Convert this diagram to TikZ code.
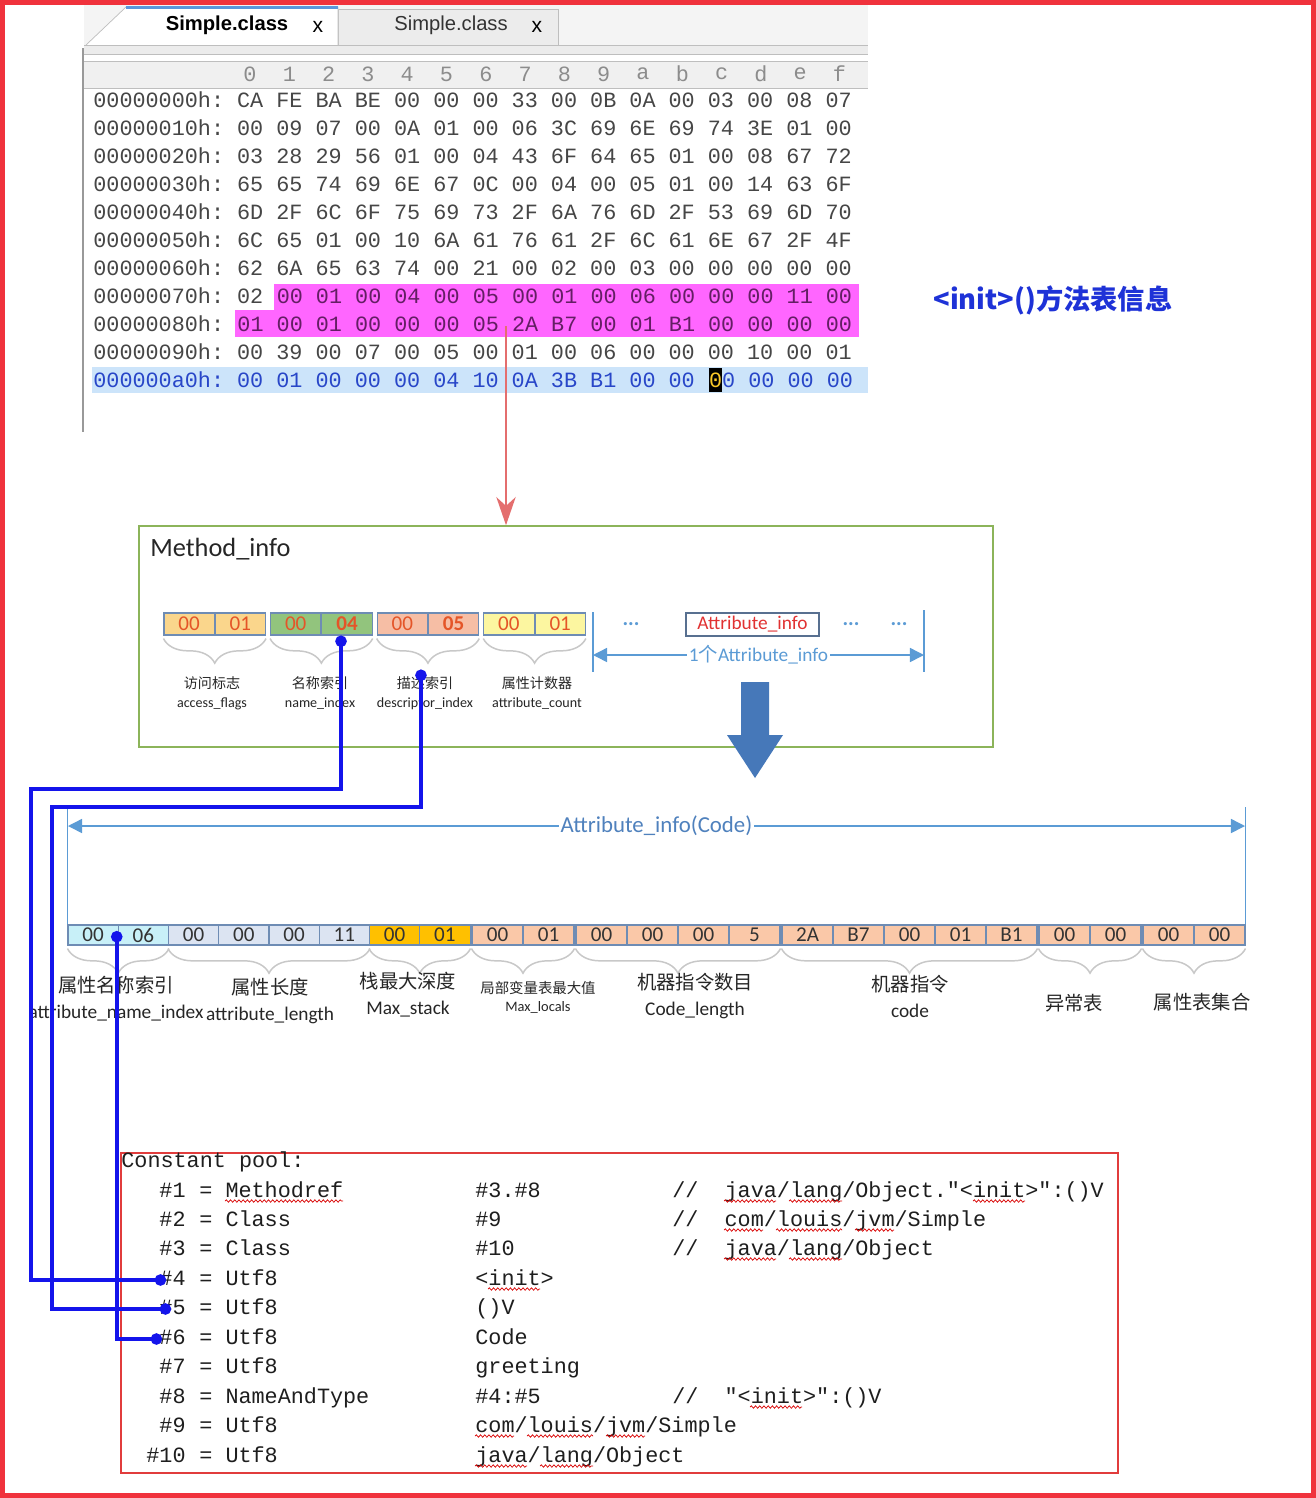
\documentclass[tikz,border=0pt]{standalone}
\usepackage{fontspec}
\setmainfont{Carlito}
\setmonofont[WordSpace={1,0,0}]{Liberation Mono}
\newfontfamily\cjk{Noto Sans CJK SC}
\newfontfamily\tabfont{Liberation Sans}
\usepackage{tikz}
\usetikzlibrary{arrows.meta,positioning,calc,decorations.pathreplacing,decorations.pathmorphing}
\definecolor{framered}{RGB}{240,50,60}
\definecolor{hexgray}{RGB}{70,70,70}
\definecolor{hexpink}{RGB}{255,102,255}
\definecolor{hexpurple}{RGB}{100,30,100}
\definecolor{rowbg}{RGB}{204,228,250}
\definecolor{rowtext}{RGB}{40,70,200}
\definecolor{curyellow}{RGB}{250,200,40}
\definecolor{tabbg}{RGB}{244,244,244}
\definecolor{tabgray}{RGB}{236,236,236}
\definecolor{tabline}{RGB}{190,190,190}
\definecolor{tabblue}{RGB}{90,150,220}
\definecolor{hdrgray}{RGB}{240,240,240}
\definecolor{arrred}{RGB}{228,110,110}
\definecolor{titleblue}{RGB}{30,50,215}
\definecolor{boxgreen}{RGB}{140,180,90}
\definecolor{cellline}{RGB}{110,140,180}
\definecolor{bytered}{RGB}{228,85,40}
\definecolor{mcA}{RGB}{250,214,140}
\definecolor{mcB}{RGB}{146,196,125}
\definecolor{mcC}{RGB}{246,190,165}
\definecolor{mcD}{RGB}{252,246,160}
\definecolor{dimblue}{RGB}{91,155,213}
\definecolor{dimtext}{RGB}{79,129,189}
\definecolor{attrred}{RGB}{225,50,50}
\definecolor{bigarrow}{RGB}{70,120,185}
\definecolor{ccA}{RGB}{200,240,248}
\definecolor{ccB}{RGB}{220,228,242}
\definecolor{ccC}{RGB}{255,192,0}
\definecolor{ccD}{RGB}{250,200,168}
\definecolor{bracegray}{RGB}{200,200,200}
\definecolor{wireblue}{RGB}{20,20,235}
\definecolor{poolred}{RGB}{225,60,60}
\definecolor{pooltext}{RGB}{30,30,30}
\newcommand\hexsz{\ttfamily\fontsize{12.4}{14}\selectfont}

\begin{document}
\begin{tikzpicture}[
    x=0.2mm, y=-0.2mm,
    hexrow/.style={anchor=west,inner sep=0,font=\hexsz,text=hexgray},
    pool/.style={anchor=west,inner sep=0,font=\hexsz,text=pooltext,text height=8.5pt,text depth=2.5pt},
    mcell/.style={draw=cellline,line width=0.6pt,minimum width=10.05mm,minimum height=4.4mm,inner sep=0,font=\fontsize{12}{12}\selectfont,text=bytered},
    ccell/.style={draw=cellline,line width=0.6pt,minimum width=10.05mm,minimum height=4mm,inner sep=0,font=\fontsize{12}{12}\selectfont,text=black!80},
    scell/.style={ccell,minimum width=10.2mm,fill=ccD},
    brc/.style={draw=bracegray,line width=0.85pt,decorate,decoration={brace,mirror,amplitude=14pt}},
    lbl/.style={align=center,inner sep=0,text=black!85},
    dim/.style={draw=dimblue,line width=0.85pt,{Triangle[length=8pt,width=8pt]}-{Triangle[length=8pt,width=8pt]}},
    dimtick/.style={draw=dimblue,line width=0.85pt},
    wire/.style={draw=wireblue,line width=2pt,{Circle[length=6.5pt]}-{Circle[length=6.5pt]}},
    redarr/.style={draw=arrred,line width=1.1pt,-{Stealth[length=16pt,width=11pt,inset=5pt]}},
    squig/.style={draw=red!85!black,line width=0.4pt,decorate,decoration={snake,amplitude=0.7pt,segment length=2.4pt}}
]
    \useasboundingbox (0,0) rectangle (1316,1498);
    \fill[white] (0,0) rectangle (1316,1498);
    \draw[framered,line width=2.8pt] (2.5,2.5) rectangle (1313.5,1495.5);

    % hex editor
    \fill[tabbg] (84,5) rectangle (868,45);
    \filldraw[draw=tabline,fill=tabgray] (338,45) -- (338,9) -- (558,9) -- (558,45);
    \filldraw[draw=tabline,fill=white] (86,45) -- (126,7) -- (338,7) -- (338,45);
    \draw[tabblue,line width=1.4pt] (126,7.5) -- (338,7.5);
    \fill[tabgray] (84,45) rectangle (868,54);
    \draw[tabline] (84,45) -- (868,45);
    \draw[tabline] (84,54) -- (868,54);
    \fill[hdrgray] (84,61) rectangle (868,88);
    \draw[tabline] (84,61) -- (868,61);
    \draw[tabline] (84,88) -- (868,88);
    \draw[black!40,line width=1.2pt] (83,48) -- (83,432);
    \node[font=\tabfont\bfseries\fontsize{11.5}{12}\selectfont] (tab1) at (227,25) {Simple.class};
    \node[font=\tabfont\fontsize{12}{12}\selectfont] (cls1) at (318,27) {x};
    \node[font=\tabfont\fontsize{11.5}{12}\selectfont,text=black!80] (tab2) at (451,25) {Simple.class};
    \node[font=\tabfont\fontsize{12}{12}\selectfont] (cls2) at (537,27) {x};
    \foreach \d [count=\k from 0] in {0,1,2,3,4,5,6,7,8,9,a,b,c,d,e,f}
        \node[font=\hexsz,text=black!45,inner sep=0] (h\d) at (250+39.3*\k,74) {\d};

    \fill[hexpink] (274,284) rectangle (859,310);
    \fill[hexpink] (235,310) rectangle (859,337);
    \fill[rowbg] (92,367) rectangle (868,393);

    \foreach \row [count=\r from 0] in {
        {00000000h: CA FE BA BE 00 00 00 33 00 0B 0A 00 03 00 08 07},
        {00000010h: 00 09 07 00 0A 01 00 06 3C 69 6E 69 74 3E 01 00},
        {00000020h: 03 28 29 56 01 00 04 43 6F 64 65 01 00 08 67 72},
        {00000030h: 65 65 74 69 6E 67 0C 00 04 00 05 01 00 14 63 6F},
        {00000040h: 6D 2F 6C 6F 75 69 73 2F 6A 76 6D 2F 53 69 6D 70},
        {00000050h: 6C 65 01 00 10 6A 61 76 61 2F 6C 61 6E 67 2F 4F},
        {00000060h: 62 6A 65 63 74 00 21 00 02 00 03 00 00 00 00 00}}
        \node[hexrow] (row\r) at (93,100+28*\r) {\row};
    \node[hexrow] (row7) at (93,296) {00000070h: 02};
    \node[hexrow,text=hexpurple] (row7b) at (276.4,296) {00 01 00 04 00 05 00 01 00 06 00 00 00 11 00};
    \node[hexrow] (row8) at (93,324) {00000080h:};
    \node[hexrow,text=hexpurple] (row8b) at (237.1,324) {01 00 01 00 00 00 05 2A B7 00 01 B1 00 00 00 00};
    \node[hexrow] (row9) at (93,352) {00000090h: 00 39 00 07 00 05 00 01 00 06 00 00 00 10 00 01};
    \node[hexrow,text=rowtext] (row10) at (93,380) {000000a0h: 00 01 00 00 00 04 10 0A 3B B1 00 00};
    \node[hexrow,fill=black,text=curyellow,minimum width=2.62mm,minimum height=4.8mm] (cur) at (708.7,380) {0};
    \node[hexrow,text=rowtext] (row10b) at (721.8,380) {0 00 00 00};

    \node[font={\cjk\bfseries\fontsize{15.5}{18}\selectfont},text=titleblue] (title) at (1053,300) {<init>()方法表信息};

    % method_info
    \node[draw=boxgreen,line width=0.9pt,minimum width=170.8mm,minimum height=44.2mm] (mi) at (566,636.5) {};
    \node[anchor=west,inner sep=0,font=\fontsize{15}{15}\selectfont,text=black!85] (mit) at (150,549) {Method\_info};
    \coordinate (hexsrc) at (506,326);
    \draw[redarr] (hexsrc) -- (hexsrc |- mi.north);

    \node[mcell,fill=mcA] (m1) at (189.1,624) {00};
    \node[mcell,fill=mcA,right=0pt of m1] (m2) {01};
    \node[mcell,fill=mcB,right=0.8mm of m2] (m3) {00};
    \node[mcell,fill=mcB,right=0pt of m3] (m4) {\textbf{04}};
    \node[mcell,fill=mcC,right=0.8mm of m4] (m5) {00};
    \node[mcell,fill=mcC,right=0pt of m5] (m6) {\textbf{05}};
    \node[mcell,fill=mcD,right=0.8mm of m6] (m7) {00};
    \node[mcell,fill=mcD,right=0pt of m7] (m8) {01};
    \foreach \a/\b in {m1/m2,m3/m4,m5/m6,m7/m8}
        \draw[brc] ([yshift=-0.6mm]\a.south west) -- ([yshift=-0.6mm]\b.south east);
    \node[lbl,font=\fontsize{8}{10.8}\selectfont] (ml1) at (212,693) {{\cjk 访问标志}\\access\_flags};
    \node[lbl,font=\fontsize{8}{10.8}\selectfont] (ml2) at (320,693) {{\cjk 名称索引}\\name\_index};
    \node[lbl,font=\fontsize{8}{10.8}\selectfont] (ml3) at (425,693) {{\cjk 描述索引}\\descriptor\_index};
    \node[lbl,font=\fontsize{8}{10.8}\selectfont] (ml4) at (537,693) {{\cjk 属性计数器}\\attribute\_count};

    \node[font=\bfseries\fontsize{12}{12}\selectfont,text=dimblue] (dots1) at (631,624) {...};
    \node[draw=cellline!80!black,line width=0.7pt,minimum width=26.6mm,minimum height=4.6mm,inner sep=0,text=attrred,font=\fontsize{11}{11}\selectfont] (ai) at (752.5,624.5) {Attribute\_info};
    \node[font=\bfseries\fontsize{12}{12}\selectfont,text=dimblue] (dots2) at (851,624) {...};
    \node[font=\bfseries\fontsize{12}{12}\selectfont,text=dimblue] (dots3) at (899,624) {...};

    \draw[dimtick] (593,612) -- (593,672);
    \draw[dimtick] (924,610) -- (924,672);
    \coordinate (d1a) at (593,655);
    \coordinate (d1b) at (924,655);
    \draw[dim] (d1a) -- node[fill=white,inner sep=1pt,text=dimblue,font=\fontsize{11}{11}\selectfont] (d1l) {1{\cjk 个}Attribute\_info} (d1b);

    \fill[bigarrow] (741,682) -- (769,682) -- (769,735) -- (783,735) -- (755,778) -- (727,735) -- (741,735) -- cycle;

    % attribute_info(Code)
    \foreach \v/\x/\f [count=\k] in {00/93.1/ccA,06/143.4/ccA,00/193.6/ccB,00/243.9/ccB,00/294.1/ccB,11/344.4/ccB,00/394.6/ccC,01/444.9/ccC}
        \node[ccell,fill=\f] (c\k) at (\x,935) {\v};
    \foreach \v/\x [count=\k from 9] in {00/497.5,01/548.5,00/601.5,00/652.5,00/703.5,5/754.5,2A/807.5,B7/858.5,00/909.5,01/960.5,B1/1011.5,00/1064.5,00/1115.5,00/1168.5,00/1219.5}
        \node[scell] (c\k) at (\x,935) {\v};
    \draw[dimtick] (c1.north west) -- ++(0,-117);
    \draw[dimtick] (c23.north east) -- ++(0,-117);
    \coordinate (d2a) at (68,826);
    \coordinate (d2b) at (1245,826);
    \draw[dim] (d2a) -- node[fill=white,inner sep=1pt,text=dimtext,font=\fontsize{13}{13}\selectfont] (d2l) {Attribute\_info(Code)} (d2b);

    \foreach \a/\b in {c1/c2,c3/c6,c7/c8,c9/c10,c11/c14,c15/c19,c20/c21,c22/c23}
        \draw[brc] ([yshift=-0.6mm]\a.south west) -- ([yshift=-0.6mm]\b.south east);
    \node[lbl,font=\fontsize{11}{14.8}\selectfont] (q1) at (116,999) {{\cjk 属性名称索引}\\attribute\_name\_index};
    \node[lbl,font=\fontsize{11}{14.8}\selectfont] (q2) at (270,1001) {{\cjk 属性长度}\\attribute\_length};
    \node[lbl,font=\fontsize{11}{14.8}\selectfont] (q3) at (408,995) {{\cjk 栈最大深度}\\Max\_stack};
    \node[lbl,font=\fontsize{8.2}{10.2}\selectfont] (q4) at (538,997) {{\cjk 局部变量表最大值}\\Max\_locals};
    \node[lbl,font=\fontsize{11}{14.8}\selectfont] (q5) at (695,996) {{\cjk 机器指令数目}\\Code\_length};
    \node[lbl,font=\fontsize{11}{14.8}\selectfont] (q6) at (910,996) {{\cjk 机器指令}\\code};
    \node[lbl,font={\cjk\fontsize{11}{14.8}\selectfont}] (q7) at (1074,1003) {异常表};
    \node[lbl,font={\cjk\fontsize{11}{14.8}\selectfont}] (q8) at (1202,1002) {属性表集合};

    % constant pool
    \node[draw=poolred,line width=0.9pt,minimum width=199.4mm,minimum height=64mm] (cpbox) at (619.5,1313) {};
    \node[pool] (cph) at (121,1162) {Constant pool:};
    \foreach \n/\y/\t in {1/1192/Methodref,2/1221/Class,3/1250/Class,4/1280/Utf8,5/1309/Utf8,6/1339/Utf8,7/1368/Utf8,8/1398/NameAndType,9/1427/Utf8,10/1457/Utf8}{
        \node[pool,anchor=east] (p\n) at (186,\y) {\#\n};
        \node[pool] (t\n) at (199,\y) {= \t};
    }
    \node[pool] (v1) at (475,1192) {\#3.\#8};
    \node[pool] (v2) at (475,1221) {\#9};
    \node[pool] (v3) at (475,1250) {\#10};
    \node[pool] (v4) at (475,1280) {<init>};
    \node[pool] (v5) at (475,1309) {()V};
    \node[pool] (v6) at (475,1339) {Code};
    \node[pool] (v7) at (475,1368) {greeting};
    \node[pool] (v8) at (475,1398) {\#4:\#5};
    \node[pool] (v9) at (475,1427) {com/louis/jvm/Simple};
    \node[pool] (v10) at (475,1457) {java/lang/Object};
    \node[pool] (r1) at (672,1192) {//\ \ java/lang/Object."<init>":()V};
    \node[pool] (r2) at (672,1221) {//\ \ com/louis/jvm/Simple};
    \node[pool] (r3) at (672,1250) {//\ \ java/lang/Object};
    \node[pool] (r8) at (672,1398) {//\ \ "<init>":()V};
    \foreach \a/\b/\y in {225/343/1201,724/776/1201,789/842/1201,973/1025/1201,
        724/763/1230,776/842/1230,855/894/1230,724/776/1259,789/842/1259,
        488/540/1289,750/802/1407,475/514/1436,527/593/1436,606/645/1436,
        475/527/1466,540/593/1466}
        \draw[squig] (\a,\y) -- (\b,\y);

    % index wires
    \coordinate (w1) at ($(m4.south)+(-6,0)$);
    \coordinate (w2) at ($(m5.south east)+(-7,34)$);
    \coordinate (w3) at ($(c1.east)+(-2,-4)$);
    \coordinate (k4) at ($(p4.west)+(7,0)$);
    \coordinate (k5) at ($(p5.west)+(12,0)$);
    \coordinate (k6) at ($(p6.west)+(3,0)$);
    \draw[wire] (w1) |- (31,789) |- (k4);
    \draw[wire] (w2) |- (52,807) |- (k5);
    \draw[wire] (w3) |- (k6);
\end{tikzpicture}
\end{document}
